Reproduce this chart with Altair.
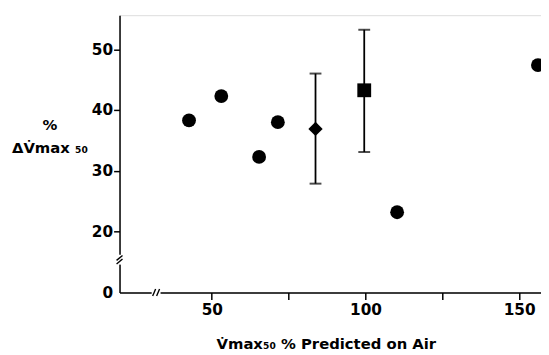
import altair as alt
import pandas as pd

# ---- data ----
circle_x = [42.6, 53.1, 65.4, 71.5, 110.3, 156.1]
circle_y = [38.3, 42.3, 32.3, 38.0, 23.2, 47.4]

diamond_x = [83.75]
diamond_y = [36.9]
diamond_lo = [27.9]
diamond_hi = [46.0]

square_x = [99.6]
square_y = [43.25]
square_lo = [33.1]
square_hi = [53.2]

x_ticks = [50, 75, 100, 125, 150]
y_ticks = [10, 20, 30, 40, 50]          # 10 is drawn as the broken-axis "0"
x_domain = [20, 157.1]
y_domain = [10, 55.6]
x_break = [31.9]
y_break = [15.4]

W, H = 427, 281
FONT = "DejaVu Sans"

px_x = W / (x_domain[1] - x_domain[0])   # pixels per x unit
px_y = H / (y_domain[1] - y_domain[0])   # pixels per y unit

circ_df = pd.DataFrame({"x": circle_x, "y": circle_y})
dia_df = pd.DataFrame({"x": diamond_x, "y": diamond_y, "lo": diamond_lo, "hi": diamond_hi})
sq_df = pd.DataFrame({"x": square_x, "y": square_y, "lo": square_lo, "hi": square_hi})
err_df = pd.concat([dia_df, sq_df], ignore_index=True)

xscale = alt.Scale(domain=x_domain, nice=False, zero=False)
yscale = alt.Scale(domain=y_domain, nice=False, zero=False)

xaxis = alt.Axis(
    values=x_ticks,
    labelExpr="datum.value % 50 == 0 ? datum.label : ''",
    title="V\u0307max\u2085\u2080 % Predicted on Air",
    grid=False, tickSize=7, tickWidth=1.5, domainWidth=1.5,
    domainColor="black", tickColor="black", labelColor="black",
    labelFont=FONT, labelFontSize=15.5, labelFontWeight="bold", labelPadding=3,
    titleFont=FONT, titleFontSize=15, titleFontWeight="bold", titleColor="black",
    titleX=209, titleY=57, titleBaseline="alphabetic", titleAlign="center",
)
yaxis = alt.Axis(
    values=y_ticks,
    labelExpr="datum.value == 10 ? '0' : datum.label",
    tickOpacity={"condition": {"test": "datum.value == 10", "value": 0}, "value": 1},
    title=["%", "\u0394V\u0307max \u2085\u2080"],
    grid=False, tickSize=6, tickWidth=1.5, domainWidth=1.5,
    domainColor="black", tickColor="black", labelColor="black",
    labelFont=FONT, labelFontSize=15.5, labelFontWeight="bold", labelPadding=1,
    titleFont=FONT, titleFontSize=15, titleFontWeight="bold", titleColor="black",
    titleAngle=0, titleAlign="center", titleBaseline="top",
    titleX=-71, titleY=104, titleLineHeight=23,
)

X = lambda f="x": alt.X(f"{f}:Q", scale=xscale, axis=xaxis)
Y = lambda f="y": alt.Y(f"{f}:Q", scale=yscale, axis=yaxis)

circles = alt.Chart(circ_df).mark_point(
    shape="circle", filled=True, size=196, color="black", opacity=1, clip=True
).encode(x=X(), y=Y())

diamond = alt.Chart(dia_df).mark_point(
    shape="diamond", filled=True, size=210, color="black", opacity=1
).encode(x=X(), y=Y())

square = alt.Chart(sq_df).mark_point(
    shape="square", filled=True, size=196, color="black", opacity=1
).encode(x=X(), y=Y())

err_rule = alt.Chart(err_df).mark_rule(color="black", strokeWidth=1.8).encode(
    x=X(), y=Y("lo"), y2="hi"
)
cap_lo = alt.Chart(err_df).mark_tick(color="black", orient="horizontal", size=12, thickness=2).encode(
    x=X(), y=Y("lo")
)
cap_hi = alt.Chart(err_df).mark_tick(color="black", orient="horizontal", size=12, thickness=2).encode(
    x=X(), y=Y("hi")
)

# ---- axis breaks ----
gaps = pd.DataFrame({
    "x": [x_domain[0], x_break[0] - 4.5 / px_x],
    "x2": [x_domain[0], x_break[0] + 4.5 / px_x],
    "y": [y_break[0] - 5 / px_y, y_domain[0]],
    "y2": [y_break[0] + 5 / px_y, y_domain[0]],
})
gap_rules = alt.Chart(gaps).mark_rule(color="white", strokeWidth=6).encode(
    x=X(), x2="x2", y=Y(), y2="y2"
)
sl = []
for dy in (-1.8, 1.8):
    yc = y_break[0] + dy / px_y
    sl.append({"x": x_domain[0] - 3 / px_x, "x2": x_domain[0] + 3 / px_x,
               "y": yc - 2.5 / px_y, "y2": yc + 2.5 / px_y})
for dx in (-2.0, 2.0):
    xc = x_break[0] + dx / px_x
    sl.append({"x": xc - 1.5 / px_x, "x2": xc + 1.5 / px_x,
               "y": y_domain[0] - 3.5 / px_y, "y2": y_domain[0] + 3.5 / px_y})
slashes = alt.Chart(pd.DataFrame(sl)).mark_rule(color="black", strokeWidth=1.4).encode(
    x=X(), x2="x2", y=Y(), y2="y2"
)

chart = alt.layer(
    circles, err_rule, cap_lo, cap_hi, diamond, square, gap_rules, slashes
).properties(
    width=W, height=H,
    padding={"left": 113, "top": 5, "right": 0, "bottom": 58},
    autosize=alt.AutoSizeParams(type="none"),
).configure_view(stroke=None).configure(background="white")

chart.save("out.html", embed_options={"renderer": "svg", "actions": False})
